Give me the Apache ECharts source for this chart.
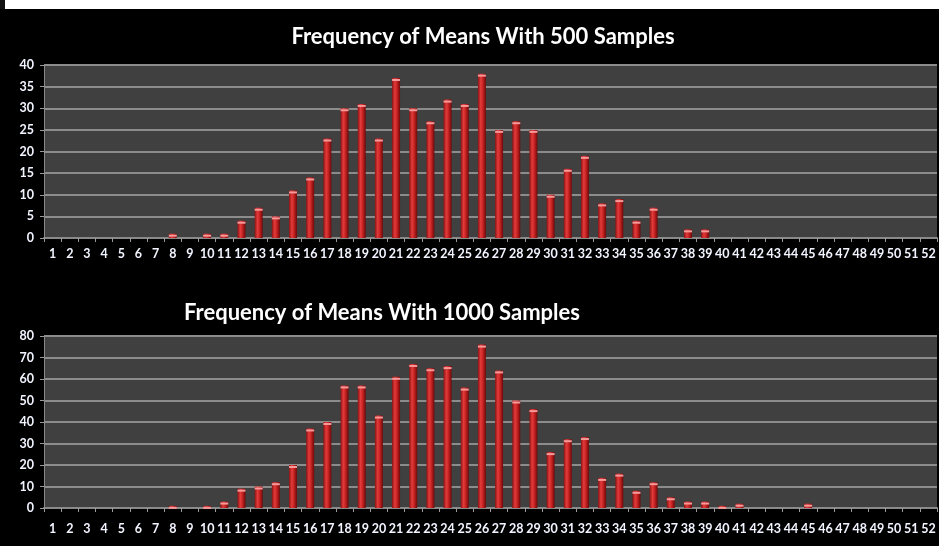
<!DOCTYPE html>
<html>
<head>
<meta charset="utf-8">
<script src="https://cdn.jsdelivr.net/npm/echarts@6/dist/echarts.min.js"></script>
<style>
html,body{margin:0;padding:0;background:#000;}
#top{position:absolute;left:0;top:0;width:939px;height:9px;background:#fff;border-left:5px solid #111;box-sizing:border-box;}
#chart{position:absolute;left:0;top:0;width:939px;height:546px;}
</style>
</head>
<body>
<div id="chart"></div>
<div id="top"></div>
<script>
const categories = [];
for (let i = 1; i <= 52; i++) categories.push(String(i));

const title500 = 'Frequency of Means With 500 Samples';
const title1000 = 'Frequency of Means With 1000 Samples';

const freq500 = [0,0,0,0,0,0,0,1,0,1,1,4,7,5,11,14,23,30,31,23,37,30,27,32,31,38,25,27,25,10,16,19,8,9,4,7,0,2,2,0,0,0,0,0,0,0,0,0,0,0,0,0];
const freq1000 = [0,0,0,0,0,0,0,1,0,1,3,9,10,12,20,37,40,57,57,43,61,67,65,66,56,76,64,50,46,26,32,33,14,16,8,12,5,3,3,1,2,0,0,0,2,0,0,0,0,0,0,0];

const yMax500 = 40, yStep500 = 5;
const yMax1000 = 80, yStep1000 = 10;

const barGrad = new echarts.graphic.LinearGradient(0,0,1,0,[
  {offset:0,color:'#8e1212'},
  {offset:0.35,color:'#e23b3b'},
  {offset:0.6,color:'#c92424'},
  {offset:1,color:'#6e0808'}
]);

const labelStyle = {color:'#f2f4ff', fontFamily:'Lato', fontWeight:'bold', fontSize:12.5};

function xAxis(gi, margin){
  return {
    type:'category', gridIndex:gi, data:categories, boundaryGap:true,
    axisLine:{lineStyle:{color:'#8a8a8a', width:2}},
    axisTick:{show:true, length:4, lineStyle:{color:'#9a9a9a'}},
    axisLabel:Object.assign({interval:0, margin:margin}, labelStyle)
  };
}
function yAxis(gi, max, step){
  return {
    type:'value', gridIndex:gi, min:0, max:max, interval:step,
    axisLine:{show:true, lineStyle:{color:'#8a8a8a', width:1}},
    axisTick:{show:true, length:4, lineStyle:{color:'#9a9a9a'}},
    axisLabel:Object.assign({margin:10}, labelStyle),
    splitLine:{lineStyle:{color:'#8c8c8c', width:2}}
  };
}
function bars(gi, data){
  return [{
    type:'bar', xAxisIndex:gi, yAxisIndex:gi, data:data, barWidth:8,
    itemStyle:{color:barGrad}, silent:true
  },{
    type:'pictorialBar', xAxisIndex:gi, yAxisIndex:gi,
    data:data.map(v=>v>0?v:'-'), symbol:'rect', symbolSize:[8,2],
    symbolPosition:'end', symbolOffset:[0,1], barGap:'-100%',
    itemStyle:{color:'#f59a9a'}, silent:true, z:3
  }];
}

const chart = echarts.init(document.getElementById('chart'), null, {renderer:'canvas'});
chart.setOption({
  backgroundColor:'#000',
  animation:false,
  title:[
    {text:title500, left:478, top:21, textAlign:'center',
     textStyle:{color:'#fff', fontFamily:'Lato', fontWeight:'bold', fontSize:22}},
    {text:title1000, left:377, top:297, textAlign:'center',
     textStyle:{color:'#fff', fontFamily:'Lato', fontWeight:'bold', fontSize:22}}
  ],
  grid:[
    {left:44, top:65, width:893, height:173, show:true, backgroundColor:'#404040', borderColor:'#6a6a6a', borderWidth:0},
    {left:44, top:336, width:893, height:172, show:true, backgroundColor:'#404040', borderColor:'#6a6a6a', borderWidth:0}
  ],
  xAxis:[xAxis(0, 9), xAxis(1, 14)],
  yAxis:[yAxis(0, yMax500, yStep500), yAxis(1, yMax1000, yStep1000)],
  series:[].concat(bars(0, freq500), bars(1, freq1000))
});
</script>
</body>
</html>
